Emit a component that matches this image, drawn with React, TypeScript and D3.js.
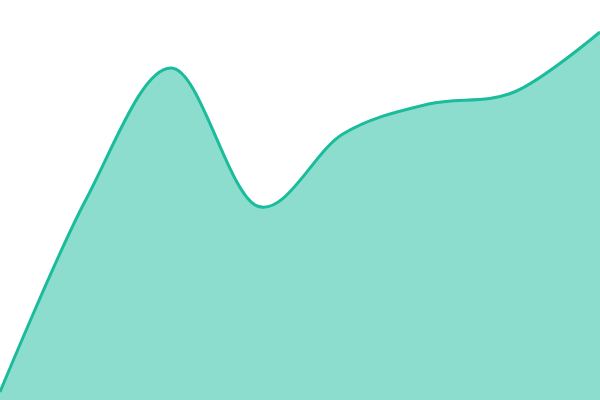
import React from 'react';
import * as d3 from 'd3';

// evenly spaced samples
const steps = [0, 1, 2, 3, 4, 5, 6, 7];
const values = [2, 50, 83, 48.5, 66.5, 74, 77, 92];

const W = 600;
const H = 400;

export default function App() {
  const x = d3.scaleLinear().domain([0, steps.length - 1]).range([0, W]);
  const y = d3.scaleLinear().domain([0, 100]).range([H, 0]);

  const area = d3
    .area<number>()
    .x((_, i) => x(steps[i]))
    .y0(H)
    .y1((d) => y(d))
    .curve(d3.curveCardinal);

  const line = d3
    .line<number>()
    .x((_, i) => x(steps[i]))
    .y((d) => y(d))
    .curve(d3.curveCardinal);

  return (
    <svg
      width={W}
      height={H}
      style={{ position: 'fixed', top: 0, left: 0, display: 'block' }}
    >
      <path d={area(values) ?? ''} fill="#1abc9c" fillOpacity={0.5} />
      <path d={line(values) ?? ''} fill="none" stroke="#1abc9c" strokeWidth={3} />
    </svg>
  );
}
